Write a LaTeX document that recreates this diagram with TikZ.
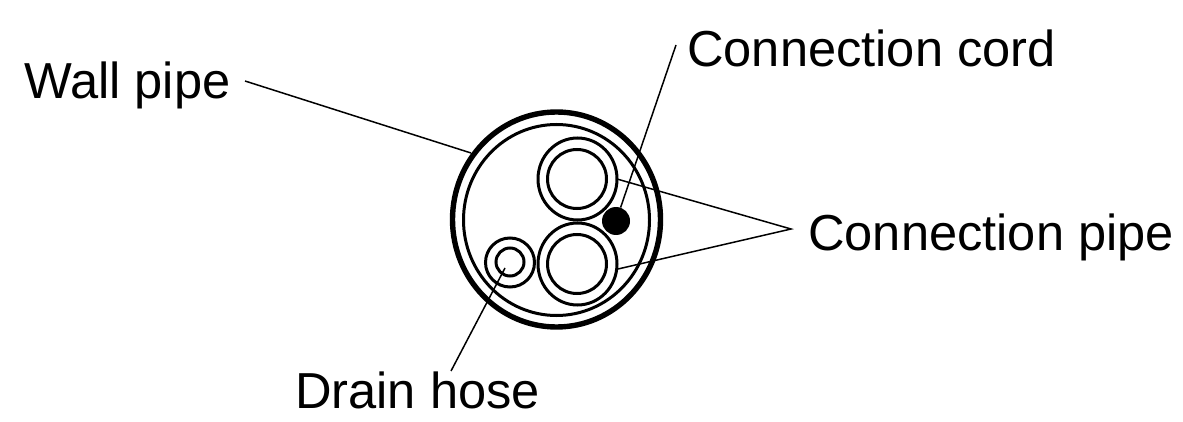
\documentclass[tikz,border=0pt]{standalone}
\usepackage{fontspec}
\setmainfont{Liberation Sans}
\usetikzlibrary{positioning}
\begin{document}
\begin{tikzpicture}[x=1pt,y=-1pt]
    \tikzset{label text/.style={font=\fontsize{50.6}{54}\selectfont, inner sep=0pt, anchor=base west},
      ring/.style={line width=3pt},
      leader/.style={line width=1.5pt}}
    \useasboundingbox (0,0) rectangle (1183,422);

    % wall pipe
    \draw[line width=5.4pt] (556.5,219.5) ellipse (104 and 107.5);
    \draw[ring] (556.5,220) ellipse (93 and 95.5);

    % connection pipes
    \foreach \name/\cy in {upper/179,lower/264} {
      \draw[ring] (577.5,\cy) ellipse (39.5 and 41);
      \draw[ring] (577,\cy) circle (29.5);
      \coordinate (\name) at (577,\cy);
    }

    % drain hose
    \draw[ring] (510,262.5) ellipse (24.5 and 24.5);
    \draw[ring] (510,262) circle (14);

    % connection cord
    \node[circle, fill=black, minimum size=28pt, inner sep=0pt] (cord) at (616,221) {};

    % labels
    \node[label text] (wall) at (24,99) {Wall pipe};
    \node[label text] (conncord) at (687,67) {Connection cord};
    \node[label text] (connpipe) at (808,250) {Connection pipe};
    \node[label text] (drain) at (295,408) {Drain hose};

    % leaders
    \coordinate (wallend) at (245,81);
    \coordinate (wallhit) at (471,153);
    \coordinate (cordend) at (676,45);
    \coordinate (pipejoin) at (791,229);
    \coordinate (upperhit) at (617,179);
    \coordinate (lowerhit) at (618,269);
    \coordinate (drainend) at (451,371);
    \coordinate (drainhit) at (505,268);
    \draw[leader] (wallend) -- (wallhit);
    \draw[leader] (cordend) -- (cord);
    \draw[leader] (upperhit) -- (pipejoin) -- (lowerhit);
    \draw[leader] (drainend) -- (drainhit);
\end{tikzpicture}
\end{document}
